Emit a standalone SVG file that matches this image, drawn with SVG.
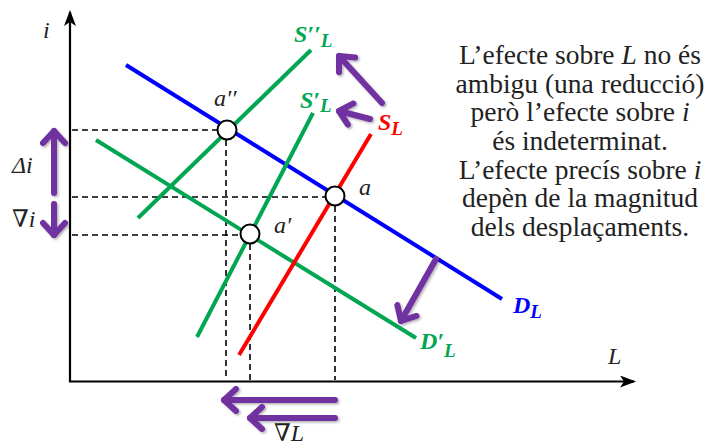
<svg xmlns="http://www.w3.org/2000/svg" width="712" height="448" viewBox="0 0 712 448">
<style>
.ax{stroke:#000;stroke-width:2.2;fill:none}
.dash{stroke:#000;stroke-width:1.6;stroke-dasharray:6 4;fill:none}
.crv{stroke-width:4;fill:none;stroke-linecap:butt}
.pt{fill:#fff;stroke:#000;stroke-width:2}
.lab{font-family:"Liberation Serif","DejaVu Serif",serif;font-style:italic;font-size:24px;fill:#222}
.big{font-family:"Liberation Serif","DejaVu Serif",serif;font-style:italic;font-weight:bold;font-size:24px}
.sub{font-size:19px}
.txt{font-family:"Liberation Serif","DejaVu Serif",serif;font-size:27.5px;fill:#222;text-anchor:middle}
.arr{stroke:#7030A0;stroke-width:6;fill:none;stroke-linecap:round;marker-end:url(#chev);filter:url(#sh)}
</style>
<defs>
<marker id="chev" viewBox="-16 -14 22 28" markerWidth="22" markerHeight="28" refX="0" refY="0" orient="auto" markerUnits="userSpaceOnUse">
<path d="M-12,-11 L0,0 L-12,11" stroke="#7030A0" stroke-width="6" fill="none" stroke-linecap="round" stroke-linejoin="round"/>
</marker>
<marker id="tri" viewBox="0 0 16 12" markerWidth="16" markerHeight="12" refX="14" refY="6" orient="auto" markerUnits="userSpaceOnUse">
<path d="M0,0 L16,6 L0,12 L4,6 Z" fill="#000"/>
</marker>
<filter id="sh" filterUnits="userSpaceOnUse" x="0" y="0" width="712" height="448">
<feDropShadow dx="1.5" dy="1.5" stdDeviation="1.2" flood-color="#000" flood-opacity="0.3"/>
</filter>
</defs>

<g id="axes">
<line class="ax" x1="70" y1="382" x2="70" y2="12" marker-end="url(#tri)"/>
<line class="ax" x1="69" y1="381.5" x2="634" y2="381.5" marker-end="url(#tri)"/>
<text class="lab" x="43" y="38">i</text>
<text class="lab" x="608" y="364">L</text>
</g>

<g id="connectors">
<line class="dash" x1="72" y1="130" x2="227" y2="130"/>
<line class="dash" x1="72" y1="197" x2="335" y2="197"/>
<line class="dash" x1="72" y1="235" x2="250" y2="235"/>
<line class="dash" x1="226" y1="130" x2="226" y2="380"/>
<line class="dash" x1="250" y1="234" x2="250" y2="380"/>
<line class="dash" x1="335" y1="196" x2="335" y2="380"/>
</g>

<g id="DL">
<line class="crv" stroke="#0000FF" x1="126" y1="65" x2="502" y2="299"/>
<text class="big" fill="#0000FF" x="513" y="313">D<tspan class="sub" dy="5">L</tspan></text>
</g>
<g id="DpL">
<line class="crv" stroke="#00A651" x1="96" y1="140" x2="416" y2="338"/>
<text class="big" fill="#00A651" x="420" y="349">D′<tspan class="sub" dy="8">L</tspan></text>
</g>
<g id="SL">
<line class="crv" stroke="#FF0000" x1="239" y1="355" x2="371" y2="134"/>
<text class="big" fill="#FF0000" x="378" y="130">S<tspan class="sub" dy="5">L</tspan></text>
</g>
<g id="SpL">
<line class="crv" stroke="#00A651" x1="197" y1="337" x2="313" y2="113"/>
<text class="big" fill="#00A651" x="300" y="108">S′<tspan class="sub" dy="4">L</tspan></text>
</g>
<g id="SppL">
<line class="crv" stroke="#00A651" x1="138" y1="218" x2="311" y2="50"/>
<text class="big" fill="#00A651" x="294" y="42">S′′<tspan class="sub" dy="5">L</tspan></text>
</g>

<g id="points">
<circle class="pt" cx="227" cy="130" r="9.5"/>
<circle class="pt" cx="335" cy="196" r="9.5"/>
<circle class="pt" cx="250" cy="234" r="9.5"/>
<text class="lab" x="214" y="106">a′′</text>
<text class="lab" x="359" y="195">a</text>
<text class="lab" x="274" y="233">a′</text>
</g>

<g id="shifts">
<line class="arr" x1="54" y1="193" x2="54" y2="131"/>
<line class="arr" x1="54" y1="204" x2="54" y2="235"/>
<line class="arr" x1="382" y1="103" x2="339" y2="56"/>
<line class="arr" x1="370" y1="119" x2="339" y2="111"/>
<line class="arr" x1="436" y1="259" x2="401" y2="321"/>
<line class="arr" x1="335" y1="400" x2="224" y2="400"/>
<line class="arr" x1="335" y1="418" x2="250" y2="418"/>
<text class="lab" x="12" y="173">Δi</text>
<text class="lab" x="12" y="227">∇i</text>
<text class="lab" x="274" y="441">∇L</text>
</g>

<g id="note">
<text class="txt" x="580" y="64">L’efecte sobre <tspan font-style="italic">L</tspan> no és</text>
<text class="txt" x="580" y="93">ambigu (una reducció)</text>
<text class="txt" x="580" y="121">però l’efecte sobre <tspan font-style="italic">i</tspan></text>
<text class="txt" x="580" y="150">és indeterminat.</text>
<text class="txt" x="580" y="179">L’efecte precís sobre <tspan font-style="italic">i</tspan></text>
<text class="txt" x="580" y="207">depèn de la magnitud</text>
<text class="txt" x="580" y="236">dels desplaçaments.</text>
</g>
</svg>
